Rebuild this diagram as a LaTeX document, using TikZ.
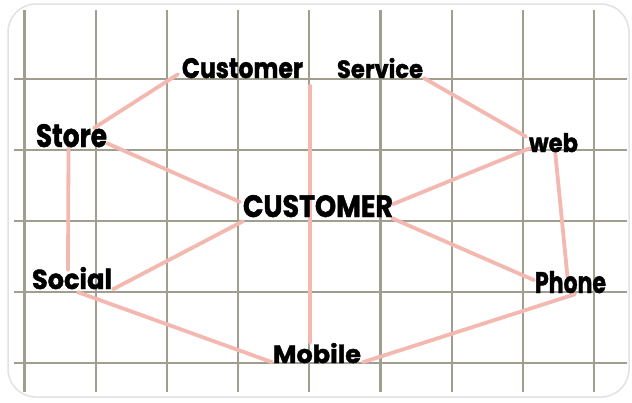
\documentclass[tikz,border=0pt]{standalone}
\usepackage{fontspec}
\newfontfamily\hand{Poppins}[BoldFeatures={FakeBold=1.5}]
\usetikzlibrary{calc,backgrounds}
\definecolor{gridc}{RGB}{160,158,142}
\definecolor{pinkc}{RGB}{243,185,177}
\definecolor{framec}{RGB}{226,226,226}
\newcommand{\hw}[3]{\resizebox{#1pt}{#2pt}{\hand\bfseries #3}}
\begin{document}
\begin{tikzpicture}[x=1pt,y=-1pt,
  gridline/.style={gridc,line width=2.2pt},
  link/.style={pinkc,line width=3.8pt,line cap=round},
  lbl/.style={inner sep=0pt,outer sep=0pt,anchor=base west},
]
\useasboundingbox (0,0) rectangle (632,402);
% labels
\node[lbl] (cust)   at (182,78)  {\hw{121}{20}{Customer}};
\node[lbl] (serv)   at (337,78)  {\hw{86}{20}{Service}};
\node[lbl] (store)  at (36,147)  {\hw{71}{23}{Store}};
\node[lbl] (web)    at (529,152) {\hw{49}{19}{web}};
\node[lbl] (hub)    at (243,217) {\hw{150}{22}{CUSTOMER}};
\node[lbl] (social) at (32,289)  {\hw{80}{22}{Social}};
\node[lbl] (phone)  at (535,293) {\hw{71}{22}{Phone}};
\node[lbl] (mobile) at (273,363) {\hw{88}{20}{Mobile}};
\coordinate (cstop) at ($(cust.south east)+(7,7)$);
\begin{scope}[on background layer]
  \fill[white] (0,0) rectangle (632,402);
  \draw[framec,line width=1.5pt,rounded corners=28pt] (8,4) rectangle (629,397);
  \foreach \i in {0,...,8} \draw[gridline] ({24.5+71.2*\i},10) -- ({24.5+71.2*\i},392);
  \foreach \j in {0,...,4} \draw[gridline] (14,{79+71*\j}) -- (627,{79+71*\j});
  % connectors
  \draw[link] ($(cust.south west)+(-4,-4)$) -- ($(store.north east)+(-13,4)$);
  \draw[link] ($(store.south east)+(0,-4)$) -- ($(hub.north west)+(-3,7)$);
  \draw[link] ($(store.south)+(-3,1)$) -- ($(social.north)+(-4,3)$);
  \draw[link] ($(social.south east)+(1,0)$) -- ($(hub.south west)+(0,4)$);
  \draw[link] ($(social.south)+(6,3)$) -- ($(mobile.south west)+(-1,-1)$);
  \draw[link] ($(mobile.south east)+(2,-1)$) -- ($(phone.south)+(4.5,1)$);
  \draw[link] ($(phone.north)+(-3,6)$) -- ($(web.south)+(1.5,-2)$);
  \draw[link] ($(web.south west)+(1,-4)$) -- ($(hub.east)+(0,-2)$);
  \draw[link] ($(web.west)+(-3,-6)$) -- ($(serv.south east)+(1,0)$);
  \draw[link] ($(hub.south east)+(-1,1)$) -- ($(phone.west)+(-1,-2)$);
  \draw[link] (cstop) -- ($(mobile.north)+(-7,0)$);
\end{scope}
\end{tikzpicture}
\end{document}
